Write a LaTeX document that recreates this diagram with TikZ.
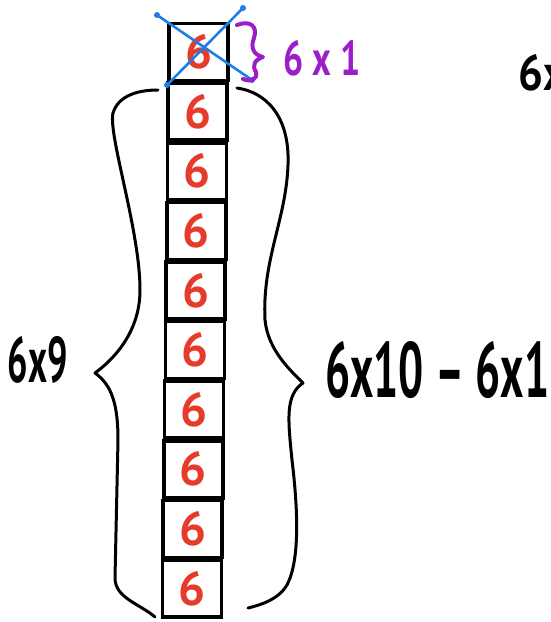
\documentclass[tikz,border=0pt]{standalone}
\usepackage{fontspec}
\usepackage{graphicx}
\setmainfont{PT Sans}
\definecolor{redsix}{HTML}{E63A2A}
\definecolor{crossblue}{HTML}{1C7FE8}
\definecolor{purp}{HTML}{9B1EC8}
\begin{document}
\begin{tikzpicture}[x=1pt,y=-1pt,
  box/.style={draw=black,line width=3.6pt,minimum width=59pt,minimum height=57pt,inner sep=0pt,text=redsix,font=\bfseries},
  brace/.style={draw=black,line width=3pt,line cap=round,line join=round},
  pbrace/.style={draw=purp,line width=4pt,line cap=round,line join=round},
  cross/.style={draw=crossblue,line width=2.6pt,line cap=round},
  dot/.style={fill=crossblue,circle,inner sep=0pt,minimum size=6pt},
  lbl/.style={inner sep=0pt,font=\bfseries}]
\useasboundingbox (0,0) rectangle (551,622);
\fill[white] (0,0) rectangle (551,622);
% column of boxes
\foreach \i in {0,...,9}
  \node[box] (b\i) at ({198.5-0.72*\i},{52+59.6*\i}) {\resizebox{27pt}{34pt}{6}};
% blue cross over the top box
\coordinate (ca) at (157,15);
\coordinate (cb) at (252,80);
\coordinate (cc) at (167,85);
\coordinate (cd) at (243,8);
\draw[cross] (ca) -- (cb);
\draw[cross] (cc) -- (cd);
\foreach \p in {ca,cb,cc,cd} \node[dot] at (\p) {};
% purple brace
\draw[pbrace] (237,25) .. controls (250,20) and (258,26) .. (254,38)
  .. controls (250,48) and (254,55) .. (263,57)
  .. controls (254,60) and (252,66) .. (256,72)
  .. controls (258,80) and (250,82) .. (243,79);
\node[lbl,text=purp,anchor=west] (p1) at (283,58) {\resizebox{77pt}{35pt}{6 x 1}};
% left brace
\draw[brace] (158,90) .. controls (135,90) and (118,97) .. (113,113)
  .. controls (108,135) and (140,230) .. (140,290)
  .. controls (140,335) and (110,362) .. (95,373)
  .. controls (112,385) and (118,405) .. (118,440)
  -- (115,578) .. controls (115,598) and (140,604) .. (155,617);
% right brace
\draw[brace] (237,88) .. controls (265,92) and (290,115) .. (288,165)
  .. controls (286,220) and (262,260) .. (265,320)
  .. controls (268,350) and (290,370) .. (303,383)
  .. controls (285,395) and (288,420) .. (292,460)
  .. controls (298,510) and (300,560) .. (287,585)
  .. controls (278,600) and (260,605) .. (248,608);
% labels
\node[lbl] (l9) at (38,360) {\resizebox{60pt}{46pt}{6x9}};
\node[lbl,anchor=west] (l10) at (325,370) {\resizebox{224pt}{56pt}{6x10 – 6x1}};
\node[lbl,anchor=west] (l6) at (518,73) {\resizebox{48pt}{36pt}{6x}};
\end{tikzpicture}
\end{document}
